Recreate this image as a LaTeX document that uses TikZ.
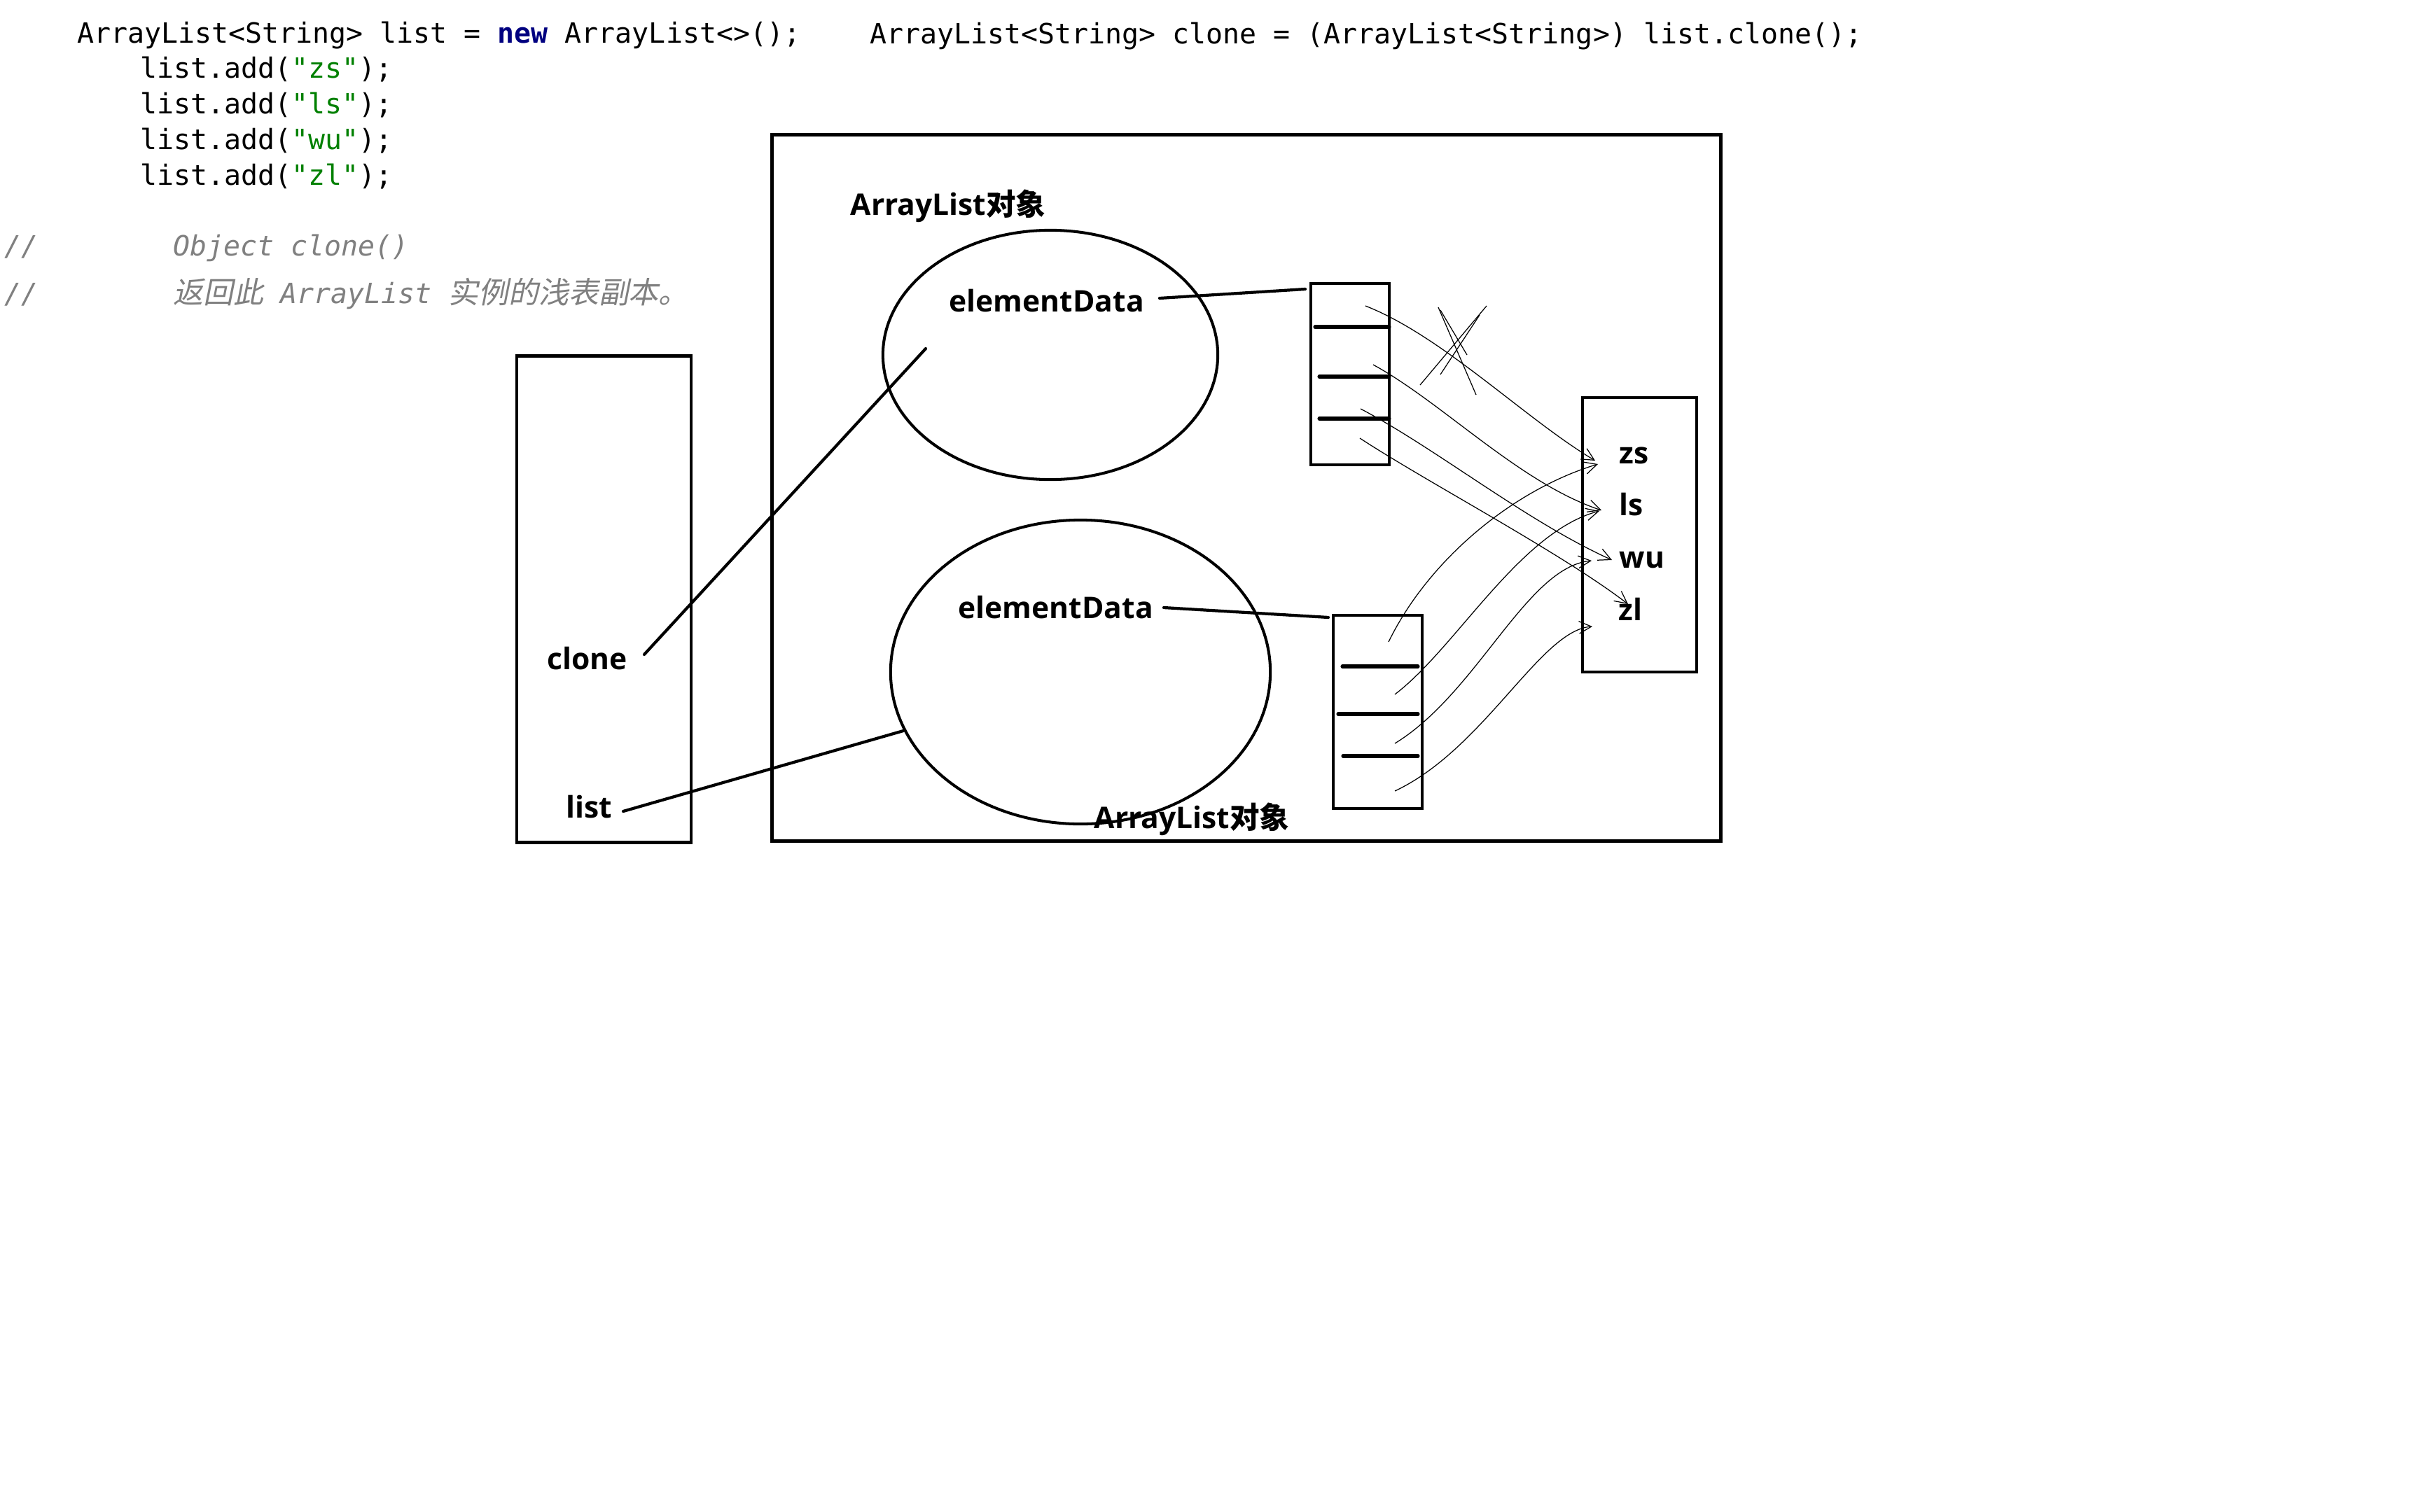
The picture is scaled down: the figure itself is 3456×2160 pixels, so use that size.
\documentclass[tikz,border=0pt]{standalone}
\usepackage{fontspec}
\setmainfont{Open Sans}
\setmonofont{DejaVu Sans Mono}
\newfontfamily\cjk{Noto Sans CJK SC}
\newfontfamily\cjkit{Noto Sans CJK SC}[FakeSlant=0.2]
\usetikzlibrary{shapes.geometric,arrows.meta}
\definecolor{newblue}{HTML}{000080}
\definecolor{strgreen}{HTML}{008000}
\definecolor{cmtgray}{HTML}{808080}
\tikzset{
  code/.style={anchor=base west, inner sep=0pt, font=\ttfamily\fontsize{11.34pt}{13pt}\selectfont},
  cmt/.style={code, text=cmtgray, font=\ttfamily\itshape\fontsize{11.34pt}{13pt}\selectfont},
  lbl/.style={anchor=base west, inner sep=0pt, font=\bfseries\fontsize{12.1pt}{14pt}\selectfont},
  heavy/.style={draw, line width=1.5pt},
  boxline/.style={draw, line width=1.35pt},
  ellline/.style={draw, line width=1.15pt},
  conn/.style={line width=1.2pt, line cap=round},
  cellsep/.style={line width=1.45pt, line cap=round},
  thin/.style={line width=0.35pt, -{Straight Barb[length=5pt,width=5pt]}},
  scrib/.style={line width=0.35pt}
}
\begin{document}
\begin{tikzpicture}[x=0.01cm, y=-0.01cm]
\useasboundingbox (0,0) rectangle (3456,2160);

% ---- code text ----
\node[code] (c1) at (110,61) {ArrayList<String> list = {\color{newblue}\bfseries new} ArrayList<>();};
\node[code] (c2) at (200,111) {list.add({\color{strgreen}"zs"});};
\node[code] (c3) at (200,162) {list.add({\color{strgreen}"ls"});};
\node[code] (c4) at (200,213) {list.add({\color{strgreen}"wu"});};
\node[code] (c5) at (200,264) {list.add({\color{strgreen}"zl"});};
\node[code] (c6) at (1242,62) {ArrayList<String> clone = (ArrayList<String>) list.clone();};
\node[cmt] (m1a) at (6,365) {//};
\node[cmt] (m1b) at (247,365) {Object clone()};
\node[cmt] (m2a) at (6,433) {//};
\node[cmt] (m2b) at (247,433) {{\cjkit\fontsize{12.2pt}{14pt}\selectfont 返回此} ArrayList {\cjkit\fontsize{12.2pt}{14pt}\selectfont 实例的浅表副本。}};

% ---- boxes ----
\node[boxline, minimum width=2.49cm, minimum height=6.94cm, inner sep=0pt] (stack) at (862.5,856) {};
\node[heavy, minimum width=13.54cm, minimum height=10.08cm, inner sep=0pt] (heap) at (1780,697) {};
\node[ellline, ellipse, minimum width=4.78cm, minimum height=3.56cm, inner sep=0pt] (objA) at (1500,507) {};
\node[ellline, ellipse, minimum width=5.42cm, minimum height=4.34cm, inner sep=0pt] (objB) at (1543,960) {};
\node[boxline, minimum width=1.12cm, minimum height=2.59cm, inner sep=0pt] (arrA) at (1928,534.5) {};
\node[boxline, minimum width=1.27cm, minimum height=2.76cm, inner sep=0pt] (arrB) at (1967.5,1017) {};
\node[boxline, minimum width=1.63cm, minimum height=3.92cm, inner sep=0pt] (strs) at (2341.5,764) {};

% cell separators
\draw[cellsep] (1878,467) -- (1984,467);
\draw[cellsep] (1884,538) -- (1984,538);
\draw[cellsep] (1884,598) -- (1984,598);
\draw[cellsep] (1917,952) -- (2025,952);
\draw[cellsep] (1911,1020) -- (2025,1020);
\draw[cellsep] (1918,1080) -- (2025,1080);

% ---- labels ----
\node[lbl] (clone) at (781,956) {clone};
\node[lbl] (list) at (808,1168) {list};
\node[lbl] (titleA) at (1214,307) {ArrayList{\cjk 对象}};
\node[lbl] (edA) at (1355,445) {elementData};
\node[lbl] (edB) at (1368,883) {elementData};
\node[lbl] (titleB) at (1562,1183) {ArrayList{\cjk 对象}};
\node[lbl] (zs) at (2312,662) {zs};
\node[lbl] (ls) at (2312,736) {ls};
\node[lbl] (wu) at (2312,811) {wu};
\node[lbl] (zl) at (2311,886) {zl};

% ---- reference lines ----
\coordinate (cloneS) at (920,935);
\coordinate (cloneE) at (1322,498);
\coordinate (listS) at (890,1159);
\coordinate (listE) at (1290,1044);
\coordinate (edAS) at (1656,426);
\coordinate (edAE) at (1864,413);
\coordinate (edBS) at (1662,868);
\coordinate (edBE) at (1897,882);
\draw[conn] (cloneS) -- (cloneE);
\draw[conn] (listS) -- (listE);
\draw[conn] (edAS) -- (edAE);
\draw[conn] (edBS) -- (edBE);

% ---- element pointers (upper array) ----
\coordinate (a1) at (1950,437);
\coordinate (a2) at (1961,521);
\coordinate (a3) at (1943,584);
\coordinate (a4) at (1942,626);
\coordinate (tzsA) at (2278,658);
\coordinate (tlsA) at (2287,729);
\coordinate (twuA) at (2302,800);
\coordinate (tzlA) at (2325,863);
\draw[thin] (a1) .. controls (2060,480) and (2180,600) .. (tzsA);
\draw[thin] (a2) .. controls (2060,575) and (2170,690) .. (tlsA);
\draw[thin] (a3) .. controls (2050,640) and (2180,745) .. (twuA);
\draw[thin] (a4) .. controls (2040,690) and (2230,790) .. (tzlA);

% ---- element pointers (lower array) ----
\coordinate (b1) at (1983,917);
\coordinate (b2) at (1992,992);
\coordinate (b3) at (1992,1062);
\coordinate (b4) at (1992,1130);
\coordinate (tzsB) at (2282,663);
\coordinate (tlsB) at (2284,730);
\coordinate (twuB) at (2273,801);
\coordinate (tzlB) at (2274,895);
\draw[thin] (b1) .. controls (2040,800) and (2160,700) .. (tzsB);
\draw[thin] (b2) .. controls (2080,925) and (2170,760) .. (tlsB);
\draw[thin] (b3) .. controls (2110,990) and (2180,810) .. (twuB);
\draw[thin] (b4) .. controls (2120,1070) and (2200,900) .. (tzlB);

% ---- cross-out scribble ----
\coordinate (x1s) at (2054,439); \coordinate (x1e) at (2108,564);
\coordinate (x2s) at (2057,443); \coordinate (x2e) at (2095,507);
\coordinate (x3s) at (2123,437); \coordinate (x3e) at (2028,550);
\coordinate (x4s) at (2113,450); \coordinate (x4e) at (2057,535);
\draw[scrib] (x1s) -- (x1e);
\draw[scrib] (x2s) -- (x2e);
\draw[scrib] (x3s) -- (x3e);
\draw[scrib] (x4s) -- (x4e);
\end{tikzpicture}
\end{document}
